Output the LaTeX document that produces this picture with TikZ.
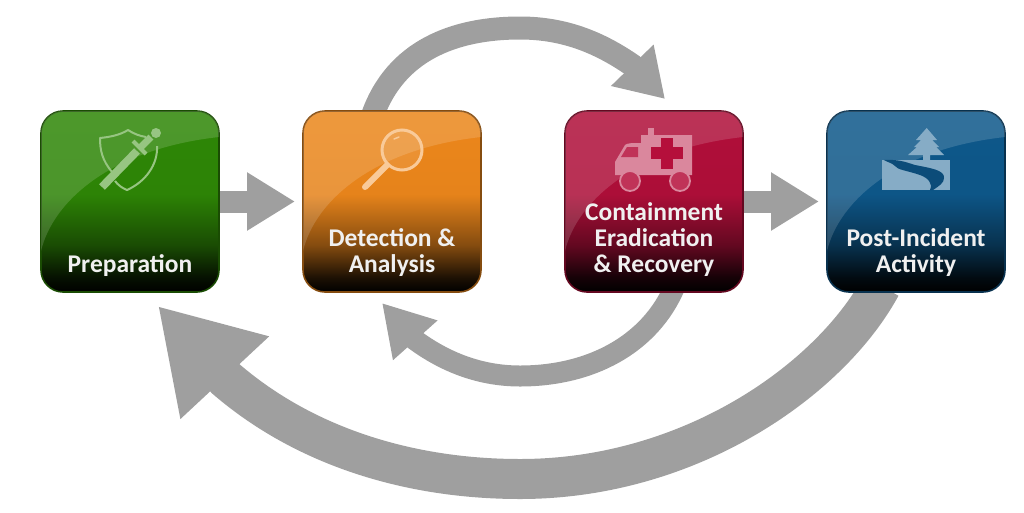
\documentclass[tikz,border=0pt]{standalone}
\usepackage{fontspec}
\setmainfont{Carlito}
\usetikzlibrary{arrows.meta,positioning,backgrounds}

\definecolor{prepgreen}{HTML}{2F8A06}
\definecolor{detorange}{HTML}{F28A1C}
\definecolor{contred}{HTML}{B50F3B}
\definecolor{postblue}{HTML}{0E5A8E}
\definecolor{flowgrey}{HTML}{9F9F9F}

\newcommand{\boxshading}[2]{\pgfdeclareverticalshading{#1}{100bp}{color(0bp)=(black); color(25bp)=(black); color(29bp)=(#2!12!black); color(38bp)=(#2!55!black); color(52bp)=(#2!95!black); color(100bp)=(#2)}}
\boxshading{prepshade}{prepgreen}
\boxshading{detshade}{detorange}
\boxshading{contshade}{contred}
\boxshading{postshade}{postblue}

% glossy swoosh over the top left of a box
\newcommand{\boxgloss}[1]{
	\begin{scope}[shift={(#1.north west)}]
		\clip[rounded corners=22pt] (0,0) rectangle (178,181);
		\fill[white, opacity=0.15] (0,0) -- (0,140) .. controls (12,90) and (70,38) .. (178,26) -- (178,0) -- cycle;
	\end{scope}
}

\begin{document}
\begin{tikzpicture}[x=1pt, y=-1pt,
	phasebox/.style={rectangle, rounded corners=22pt, minimum width=178pt, minimum height=181pt, inner sep=0pt, outer sep=0pt, line width=1.6pt},
	phaselabel/.style={align=center, inner sep=0pt, text=white!94!black, font=\fontsize{25.5}{26}\selectfont\bfseries, text depth=6pt},
	flow/.style={draw=flowgrey, line width=22pt, -{Triangle[length=48pt, width=55pt]}, flowgrey},
	loopsmall/.style={draw=flowgrey, line width=21pt, -{Triangle[length=50pt, width=56pt]}, flowgrey},
	looptop/.style={draw=flowgrey, line width=23pt, -{Triangle[length=47pt, width=56pt]}, flowgrey},
	loopbig/.style={draw=flowgrey, line width=40pt, -{Triangle[length=98pt, width=114pt]}, flowgrey}]

	\useasboundingbox (0,0) rectangle (1024,512);

	\node[phasebox, draw=prepgreen!55!black, shading=prepshade] (prep) at (130,201.5) {};
	\node[phasebox, draw=detorange!55!black, shading=detshade] (det) at (392,201.5) {};
	\node[phasebox, draw=contred!55!black, shading=contshade] (cont) at (654,201.5) {};
	\node[phasebox, draw=postblue!55!black, shading=postshade] (post) at (916,201.5) {};

	\boxgloss{prep}
	\boxgloss{det}
	\boxgloss{cont}
	\boxgloss{post}

	\node[phaselabel, above=13pt of prep.south] (preplabel) {Preparation};
	\node[phaselabel, above=13pt of det.south] (detlabel) {Detection \&\\Analysis};
	\node[phaselabel, above=13pt of cont.south] (contlabel) {Containment\\Eradication\\\& Recovery};
	\node[phaselabel, above=13pt of post.south] (postlabel) {Post-Incident\\Activity};

	\coordinate (toptip) at (665,99);
	\coordinate (midtip) at (382,303);
	\coordinate (bigtip) at (158,306);

	\begin{scope}[on background layer]
		\draw[flow, shorten >=8pt] (prep) -- (det);
		\draw[flow, shorten >=8pt] (cont) -- (post);
		\draw[looptop] ([xshift=-20pt, yshift=-6pt]det.north) .. controls (395,50) and (455,28) .. (520,28) .. controls (565,28) and (600,43) .. (632,65) -- (toptip);
		\draw[loopsmall] ([xshift=21pt, yshift=6pt]cont.south) .. controls (650,345) and (590,376) .. (520,376) .. controls (480,376) and (445,362) .. (415,340) -- (midtip);
		\draw[loopbig] ([xshift=-35pt, yshift=6pt]post.south) .. controls (830,380) and (690,479) .. (520,479) .. controls (410,479) and (305,447) .. (226,379) -- (bigtip);
	\end{scope}

	% shield and sword
	\draw[line width=2pt, draw=prepgreen!50!white, line join=round] (112,172) .. controls (102,160) and (100,150) .. (100,138) .. controls (110,137) and (120,135) .. (128,130) .. controls (134,134) and (140,136) .. (146,137);
	\draw[line width=2pt, draw=prepgreen!50!white] (157,146) .. controls (158,165) and (145,182) .. (127,190) .. controls (122,188) and (118,185) .. (115,181);
	\draw[line width=8pt, draw=prepgreen!50!white] (102,187) -- (137,151);
	\draw[line width=7pt, draw=prepgreen!50!white] (141,147) -- (151,137);
	\draw[line width=4pt, draw=prepgreen!50!white] (133,141) -- (146,154);
	\fill[prepgreen!50!white] (156,133) circle (5);

	% magnifying glass
	\draw[line width=3pt, draw=detorange!45!white, fill=white, fill opacity=0.1] (402,150) circle (20);
	\draw[line width=6pt, draw=detorange!45!white, line cap=round] (387,165) -- (365,187);
	\draw[line width=1.5pt, draw=detorange!45!white, line cap=round] (394,139) -- (399,137);

	% ambulance
	\fill[contred!50!white] (641,135) -- (692,135) -- (692,175) -- (615,175) -- (615,162) -- (625,145) .. controls (627,143) and (632,143) .. (641,143) -- cycle;
	\fill[contred!50!white] (648,128) rectangle (654,135);
	\fill[contred!85!white] (627,147) -- (638,147) -- (638,157) -- (621,157) -- cycle;
	\fill[contred] (661,138) rectangle (673,169);
	\fill[contred] (651,147) rectangle (683,159);
	\foreach \wheelx in {630,680} {
		\draw[line width=1.8pt, draw=contred!50!white, fill=contred!85!white] (\wheelx,181) circle (10);
	}

	% tree and winding road
	\fill[postblue!50!white] (882,160) -- (950,160) -- (950,190) -- (882,190) -- cycle;
	\fill[postblue!85!black] (884,160) .. controls (900,159) and (908,163) .. (915,165) .. controls (930,168) and (945,170) .. (944,178) .. controls (944,183) and (939,186) .. (933,190) -- (930,190) .. controls (933,183) and (928,178) .. (920,175) .. controls (905,170) and (898,170) .. (895,166) .. controls (892,163) and (887,162) .. (884,160) -- cycle;
	\fill[postblue!50!white] (926.7,128) -- (937,140) -- (932,140) -- (939,147) -- (936,147) -- (944,155) -- (930,155) -- (930,160) -- (923,160) -- (923,155) -- (908,155) -- (917,147) -- (914,147) -- (921,140) -- (916,140) -- cycle;
\end{tikzpicture}
\end{document}
